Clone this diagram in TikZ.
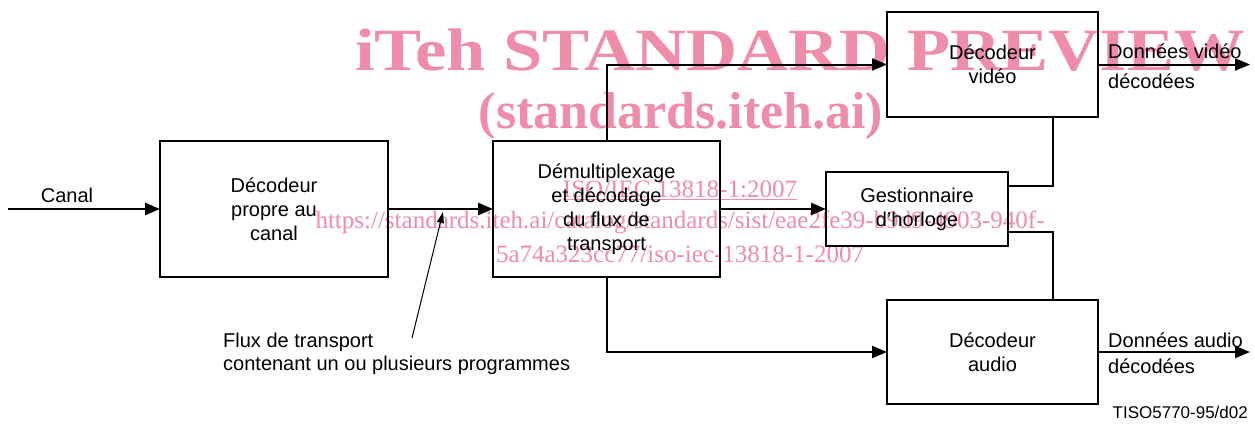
\documentclass[tikz,border=0pt]{standalone}
\usepackage{fontspec}
\setmainfont{Liberation Sans}
\newfontfamily\wmfont{Liberation Serif}
\usetikzlibrary{arrows.meta,calc}
\definecolor{wmpink}{RGB}{238,140,170}
\tikzset{
  box/.style={draw, line width=2pt, inner sep=0pt, outer sep=0pt, align=center,
    font=\fontsize{20}{24}\selectfont},
  conn/.style={line width=2pt},
  thickconn/.style={line width=2.6pt},
  arr/.style={-{Triangle[length=15pt,width=12pt]}},
  lbl/.style={inner sep=0pt, font=\fontsize{20}{24}\selectfont},
  wm/.style={inner sep=0pt, text=wmpink},
}
\begin{document}
\begin{tikzpicture}[x=1pt,y=-1pt]
\useasboundingbox (0,0) rectangle (1255,426);
% watermark
\node[wm, anchor=base, font=\wmfont\bfseries\fontsize{60}{60}\selectfont] (wm1) at (800,70) {\scalebox{1.176}[1]{iTeh STANDARD PREVIEW}};
\node[wm, anchor=base, font=\wmfont\bfseries\fontsize{52}{52}\selectfont] (wm2) at (681,128) {(standards.iteh.ai)};
\node[wm, anchor=base, font=\wmfont\fontsize{25}{25}\selectfont] (wm3) at (680,197) {\underline{ISO/IEC 13818-1:2007}};
\node[wm, anchor=base, font=\wmfont\fontsize{25}{25}\selectfont] (wm4) at (680,228) {https://standards.iteh.ai/catalog/standards/sist/eae2fe39-b9d9-4903-940f-};
\node[wm, anchor=base, font=\wmfont\fontsize{25}{25}\selectfont] (wm5) at (680,262) {5a74a323cc77/iso-iec-13818-1-2007};
% boxes
\node[box, minimum width=228pt, minimum height=136pt] (dec) at (274,209) {Décodeur\\propre au\\canal};
\node[box, minimum width=227pt, minimum height=136pt] (demux) at (606.5,209) {Démultiplexage\\et décodage\\du flux de\\transport};
\node[box, minimum width=182pt, minimum height=74pt] (clock) at (917,209) {Gestionnaire\\d'horloge};
\node[box, minimum width=211pt, minimum height=105pt] (video) at (992.5,64.5) {Décodeur\\vidéo};
\node[box, minimum width=211pt, minimum height=104pt] (audio) at (992.5,352) {Décodeur\\audio};
% coordinates
\coordinate (canalin) at (8,209);
\coordinate (vj) at (1053,186);
\coordinate (aj) at (1053,232);
\coordinate (vout) at (1250,65);
\coordinate (aout) at (1250,352);
\coordinate (fluxtail) at (412,338);
\coordinate (fluxtip) at (443,212);
% connectors
\draw[thickconn, arr] (canalin) -- (dec.west);
\draw[thickconn, arr] (dec.east) -- (demux.west);
\draw[thickconn, arr] (demux.east) -- (clock.west);
\draw[conn, arr] (demux.north) |- (video.west);
\draw[conn, arr] (demux.south) |- (audio.west);
\draw[conn] (vj |- video.south) |- (clock.east |- vj);
\draw[conn] (clock.east |- aj) -| (aj |- audio.north);
\draw[conn, arr] (video.east) -- (video.east -| vout);
\draw[conn, arr] (audio.east) -- (audio.east -| aout);
\draw[line width=1pt, -{Triangle[length=11pt,width=7pt]}] (fluxtail) -- (fluxtip);
% labels
\node[lbl, anchor=base] (canal) at (67,202) {Canal};
\node[lbl, anchor=base west] (dv1) at (1108,58) {Données vidéo};
\node[lbl, anchor=base west] (dv2) at (1108,88) {décodées};
\node[lbl, anchor=base west] (da1) at (1108,347) {Données audio};
\node[lbl, anchor=base west] (da2) at (1108,373) {décodées};
\node[lbl, anchor=base west] (flux1) at (223,347) {Flux de transport};
\node[lbl, anchor=base west] (flux2) at (223,370) {contenant un ou plusieurs programmes};
\node[inner sep=0pt, anchor=base east, font=\fontsize{17}{20}\selectfont] (tiso) at (1248,418) {TISO5770-95/d02};
\end{tikzpicture}
\end{document}
